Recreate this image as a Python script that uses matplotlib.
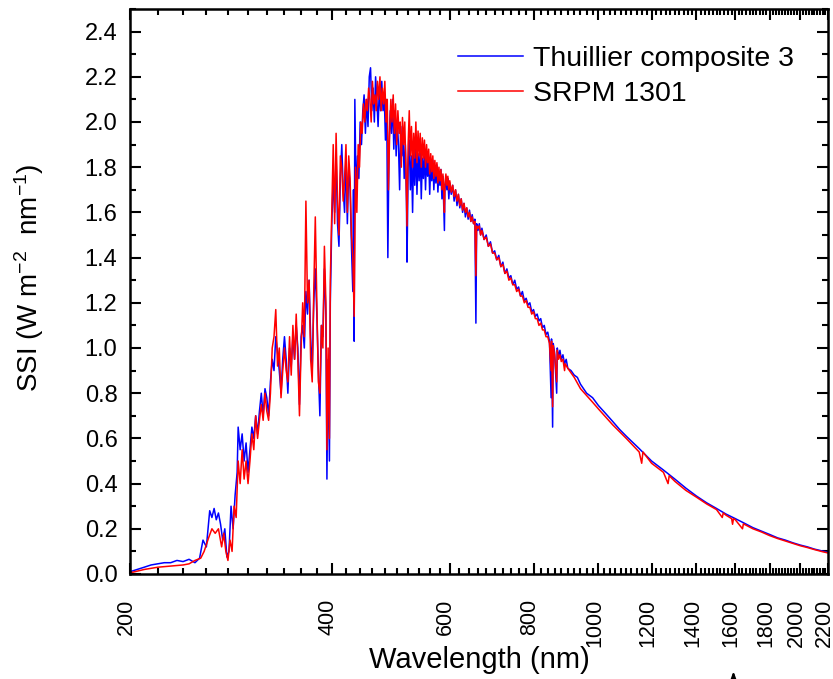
import numpy as np
import matplotlib
matplotlib.use("Agg")
import matplotlib.pyplot as plt
from matplotlib.transforms import ScaledTranslation
from matplotlib.ticker import FixedLocator, FixedFormatter, MultipleLocator, FormatStrFormatter, NullFormatter

plt.rcParams.update({
    "font.family": ["Liberation Sans", "DejaVu Sans"],
    "mathtext.default": "regular",
})

# --- data (nm, W m-2 nm-1) ---
wl_thuillier = [200, 205, 210, 215, 220, 225, 230, 235, 240, 245, 250, 254, 257, 260, 263, 265, 267, 269, 271, 273,
                275, 277, 279, 281, 283, 285, 287, 289, 290, 292, 294, 296, 298, 300, 302, 304, 306, 308, 310, 312,
                314, 316, 318, 320, 322, 324, 326, 328, 330, 332, 334, 336, 338, 340, 342, 344, 346, 348, 350, 352,
                354, 356, 358, 360, 362, 364, 366, 368, 370, 372, 374, 376, 378, 380, 382, 384, 386, 388, 390, 392,
                393.4, 395, 396.8, 398, 400, 402, 404, 406, 408, 410, 412, 414, 416, 418, 420, 422, 424, 426, 428, 430,
                431, 432, 433, 435, 437, 439, 441, 443, 445, 447, 449, 451, 453, 455, 457, 459, 461, 463, 465, 467,
                469, 471, 473, 475, 477, 479, 481, 483, 485, 487, 489, 491, 493, 495, 497, 499, 501, 503, 505, 507,
                509, 511, 513, 515, 517, 518, 520, 522, 524, 526, 528, 530, 532, 534, 536, 538, 540, 542, 544, 546,
                548, 550, 552, 554, 556, 558, 560, 562, 564, 566, 568, 570, 572, 574, 576, 578, 580, 582, 584, 586,
                588, 589, 590, 592, 594, 596, 598, 600, 603, 606, 609, 612, 615, 618, 621, 624, 627, 630, 633, 636,
                639, 642, 645, 648, 651, 654, 656.3, 658, 661, 664, 667, 670, 675, 680, 685, 690, 695, 700, 705, 710,
                715, 720, 725, 730, 735, 740, 745, 750, 755, 760, 765, 770, 775, 780, 785, 790, 795, 800, 805, 810,
                815, 820, 825, 830, 835, 840, 845, 849.8, 851, 854.2, 856, 860, 866.2, 868, 872, 876, 880, 885, 890, 895,
                900, 910, 920, 930, 940, 960, 980, 1000, 1025, 1050, 1075, 1100, 1150, 1200, 1250, 1300, 1350, 1400, 1450, 1500,
                1550, 1600, 1650, 1700, 1750, 1800, 1850, 1900, 1950, 2000, 2050, 2100, 2150, 2200]
ssi_thuillier = [0.01, 0.02, 0.03, 0.04, 0.045, 0.05, 0.05, 0.06, 0.055, 0.065, 0.05, 0.07, 0.15, 0.12, 0.28, 0.25, 0.29, 0.24, 0.27, 0.22,
                 0.15, 0.2, 0.075, 0.1, 0.3, 0.2, 0.35, 0.45, 0.65, 0.55, 0.62, 0.5, 0.58, 0.45, 0.55, 0.65, 0.6, 0.7, 0.62, 0.72,
                 0.8, 0.7, 0.82, 0.78, 0.7, 0.85, 0.95, 0.9, 1.05, 0.98, 0.9, 0.8, 0.95, 1.05, 0.95, 0.8, 1.0, 0.92, 1.05, 0.95,
                 1.1, 1.0, 0.75, 1.05, 1.1, 1.0, 1.25, 1.15, 1.3, 1.05, 0.9, 1.2, 1.35, 1.15, 0.9, 0.7, 1.1, 1.05, 1.35, 1.15,
                 0.42, 0.95, 0.5, 1.2, 1.55, 1.75, 1.6, 1.85, 1.55, 1.45, 1.75, 1.9, 1.7, 1.6, 1.85, 1.55, 1.8, 1.7, 1.45, 1.25,
                 1.7, 1.03, 2.1, 1.65, 1.85, 1.75, 2.0, 1.9, 2.05, 2.12, 1.95, 2.1, 1.98, 2.2, 2.24, 2.05, 2.15, 2.0, 2.2, 2.1,
                 1.98, 2.15, 2.05, 2.18, 2.05, 2.12, 1.92, 2.1, 1.4, 1.9, 2.05, 1.95, 2.1, 1.88, 2.05, 1.85, 2.0, 1.9, 1.7, 1.98,
                 1.85, 1.95, 1.75, 1.9, 1.65, 1.38, 1.8, 1.92, 1.7, 1.85, 1.6, 1.88, 1.72, 1.9, 1.68, 1.86, 1.74, 1.88, 1.66, 1.84,
                 1.75, 1.87, 1.7, 1.85, 1.76, 1.84, 1.68, 1.82, 1.74, 1.83, 1.7, 1.8, 1.73, 1.81, 1.69, 1.78, 1.72, 1.79, 1.66, 1.76,
                 1.6, 1.52, 1.7, 1.76, 1.7, 1.75, 1.66, 1.73, 1.68, 1.72, 1.65, 1.7, 1.63, 1.68, 1.62, 1.66, 1.6, 1.64, 1.58, 1.62,
                 1.57, 1.61, 1.56, 1.59, 1.55, 1.57, 1.11, 1.55, 1.52, 1.55, 1.5, 1.53, 1.48, 1.5, 1.45, 1.47, 1.42, 1.43, 1.39, 1.41,
                 1.36, 1.38, 1.33, 1.35, 1.31, 1.32, 1.28, 1.3, 1.26, 1.27, 1.23, 1.25, 1.21, 1.22, 1.19, 1.2, 1.16, 1.17, 1.14, 1.15,
                 1.12, 1.13, 1.09, 1.1, 1.06, 1.07, 1.03, 0.78, 1.04, 0.65, 1.02, 0.98, 0.8, 1.0, 0.96, 0.99, 0.95, 0.97, 0.93, 0.95,
                 0.91, 0.9, 0.88, 0.87, 0.84, 0.8, 0.78, 0.745, 0.71, 0.675, 0.64, 0.61, 0.555, 0.5, 0.46, 0.42, 0.38, 0.345, 0.315, 0.29,
                 0.265, 0.245, 0.225, 0.205, 0.19, 0.175, 0.16, 0.15, 0.138, 0.128, 0.12, 0.11, 0.103, 0.096]

wl_srpm = [200, 210, 220, 230, 240, 245, 250, 255, 258, 262, 265, 268, 271, 274, 276, 278, 280, 282, 284, 286,
           288, 290, 292, 294, 296, 298, 300, 302, 304, 306, 308, 310, 312, 314, 316, 318, 320, 322, 324, 326,
           328, 330, 332, 334, 336, 338, 340, 342, 344, 346, 348, 350, 352, 354, 356, 358, 360, 362, 364, 366,
           368, 370, 372, 374, 376, 378, 380, 382, 384, 386, 388, 390, 392, 393.4, 395, 396.8, 398, 400, 402, 404,
           406, 408, 410, 412, 414, 416, 418, 420, 422, 424, 426, 428, 430, 432, 434, 436, 438, 440, 442, 444,
           446, 448, 450, 452, 454, 456, 458, 460, 462, 464, 466, 468, 470, 472, 474, 476, 478, 480, 482, 484,
           486, 488, 490, 492, 494, 496, 498, 500, 502, 504, 506, 508, 510, 512, 514, 516, 518, 520, 522, 524,
           526, 528, 530, 532, 534, 536, 538, 540, 542, 544, 546, 548, 550, 552, 554, 556, 558, 560, 562, 564,
           566, 568, 570, 572, 574, 576, 578, 580, 582, 584, 586, 588, 589, 590, 592, 594, 596, 598, 600, 603,
           606, 609, 612, 615, 618, 621, 624, 627, 630, 633, 636, 639, 642, 645, 648, 651, 654, 656.3, 658, 661,
           664, 667, 670, 675, 680, 685, 690, 695, 700, 705, 710, 715, 720, 725, 730, 735, 740, 745, 750, 755,
           760, 765, 770, 775, 780, 785, 790, 795, 800, 805, 810, 815, 820, 825, 830, 835, 840, 845, 849.8, 851,
           854.2, 856, 860, 866.2, 868, 872, 876, 880, 885, 890, 892, 900, 920, 940, 960, 980, 1000, 1050, 1100, 1150,
           1160, 1165, 1200, 1250, 1270, 1275, 1300, 1350, 1400, 1450, 1500, 1530, 1535, 1550, 1580, 1585, 1590, 1600, 1640, 1645,
           1650, 1700, 1750, 1800, 1850, 1900, 1950, 2000, 2050, 2100, 2150, 2200]
ssi_srpm = [0.005, 0.02, 0.03, 0.035, 0.04, 0.045, 0.06, 0.07, 0.1, 0.16, 0.2, 0.18, 0.2, 0.12, 0.18, 0.1, 0.06, 0.15, 0.1, 0.3,
            0.25, 0.5, 0.4, 0.55, 0.42, 0.5, 0.4, 0.5, 0.62, 0.55, 0.7, 0.6, 0.68, 0.75, 0.68, 0.8, 0.72, 0.68, 0.8, 1.0,
            1.05, 1.17, 0.92, 1.0, 0.78, 0.9, 1.0, 0.9, 0.85, 1.05, 0.88, 1.1, 0.95, 1.15, 0.95, 0.7, 1.0, 1.2, 1.05, 1.65,
            1.2, 1.3, 0.95, 0.85, 1.25, 1.58, 1.2, 0.85, 0.8, 1.1, 1.0, 1.45, 1.2, 0.55, 1.0, 0.6, 1.3, 1.6, 1.9, 1.55,
            1.95, 1.65, 1.5, 1.85, 1.8, 1.65, 1.75, 1.9, 1.6, 1.85, 1.75, 1.5, 1.4, 1.14, 1.8, 1.6, 1.9, 1.8, 2.0, 1.95,
            2.08, 2.0, 2.1, 2.05, 2.15, 2.1, 2.0, 2.18, 2.08, 2.12, 2.05, 2.18, 2.1, 2.2, 2.05, 2.15, 2.08, 2.18, 2.0, 2.1,
            1.7, 1.95, 2.1, 2.0, 2.12, 1.95, 2.08, 1.9, 2.05, 1.95, 2.0, 1.8, 2.02, 1.9, 2.0, 1.8, 1.54, 1.9, 2.05, 1.85,
            1.98, 1.8, 1.95, 1.84, 2.0, 1.82, 1.96, 1.85, 1.95, 1.8, 1.93, 1.84, 1.92, 1.8, 1.9, 1.82, 1.88, 1.77, 1.86, 1.78,
            1.85, 1.75, 1.83, 1.76, 1.82, 1.73, 1.8, 1.74, 1.79, 1.7, 1.77, 1.68, 1.6, 1.72, 1.77, 1.72, 1.76, 1.7, 1.74, 1.69,
            1.72, 1.67, 1.7, 1.65, 1.68, 1.63, 1.66, 1.61, 1.64, 1.6, 1.62, 1.58, 1.6, 1.56, 1.58, 1.55, 1.56, 1.32, 1.54, 1.53,
            1.54, 1.5, 1.52, 1.48, 1.49, 1.45, 1.46, 1.42, 1.42, 1.39, 1.4, 1.36, 1.37, 1.33, 1.34, 1.3, 1.31, 1.28, 1.28, 1.25,
            1.26, 1.23, 1.23, 1.2, 1.21, 1.18, 1.18, 1.15, 1.16, 1.13, 1.13, 1.1, 1.11, 1.08, 1.08, 1.05, 1.05, 1.02, 0.9, 1.03,
            0.74, 1.01, 0.97, 0.85, 0.99, 0.95, 0.97, 0.94, 0.95, 0.9, 0.93, 0.91, 0.87, 0.82, 0.79, 0.76, 0.73, 0.66, 0.6, 0.54,
            0.49, 0.54, 0.49, 0.45, 0.4, 0.435, 0.41, 0.37, 0.34, 0.31, 0.285, 0.25, 0.27, 0.26, 0.245, 0.22, 0.245, 0.24, 0.2, 0.222,
            0.22, 0.2, 0.186, 0.17, 0.157, 0.146, 0.135, 0.125, 0.117, 0.108, 0.1, 0.093]

x_major = list(range(200, 2201, 200))
x_minor = list(range(200, 2201, 20))

fig = plt.figure(figsize=(8.33, 6.79), dpi=100)
ax = fig.add_axes([130 / 833, 1 - 574 / 679, 698 / 833, 565 / 679])

l1, = ax.plot(wl_thuillier, ssi_thuillier, color="#0000ff", lw=1.1, label="Thuillier composite 3")
l2, = ax.plot(wl_srpm, ssi_srpm, color="#ff0000", lw=1.1, label="SRPM 1301")

ax.set_xscale("log")
ax.set_xlim(200, 2200)
ax.set_ylim(0, 2.5)

ax.xaxis.set_major_locator(FixedLocator(x_major))
ax.xaxis.set_major_formatter(FixedFormatter([str(v) for v in x_major]))
ax.xaxis.set_minor_locator(FixedLocator(x_minor))
ax.xaxis.set_minor_formatter(NullFormatter())
ax.yaxis.set_major_locator(FixedLocator(np.arange(0, 2.41, 0.2)))
ax.yaxis.set_major_formatter(FormatStrFormatter("%.1f"))
ax.yaxis.set_minor_locator(MultipleLocator(0.1))

ax.tick_params(which="both", direction="in", top=True, right=True, width=1.5, color="black")
ax.tick_params(which="major", length=8)
ax.tick_params(which="minor", length=4.5)
ax.tick_params(axis="y", which="major", labelsize=17, pad=9)
ax.tick_params(axis="x", which="major", labelsize=15.5, pad=18, labelrotation=90)
for s in ax.spines.values():
    s.set_linewidth(1.8)

# nudge the rotated x labels a little left, as in the original
shift = ScaledTranslation(-4 / 100, 0, fig.dpi_scale_trans)
for lab in ax.get_xticklabels():
    lab.set_transform(lab.get_transform() + shift)

ax.set_xlabel("Wavelength (nm)", fontsize=21)
ax.xaxis.set_label_coords(0.5, -0.128)
ax.set_ylabel("SSI (W m$^{-2}$  nm$^{-1}$)", fontsize=20)
ax.yaxis.set_label_coords(-0.12, 0.524)

ax.legend(handles=[l1, l2], loc="upper right", bbox_to_anchor=(0.98, 0.97), frameon=False,
          fontsize=20.5, handlelength=2.3, handletextpad=0.35, labelspacing=0.33, borderaxespad=0.3)

# arrowhead poking in from below the 1600 label
ax.annotate("", xy=(1590, -0.167), xycoords=("data", "axes fraction"),
            xytext=(1590, -0.25), textcoords=("data", "axes fraction"),
            arrowprops=dict(arrowstyle="-|>,head_width=0.25,head_length=0.7", color="black", lw=1.5),
            annotation_clip=False)

fig.savefig("out.png", dpi=100)
